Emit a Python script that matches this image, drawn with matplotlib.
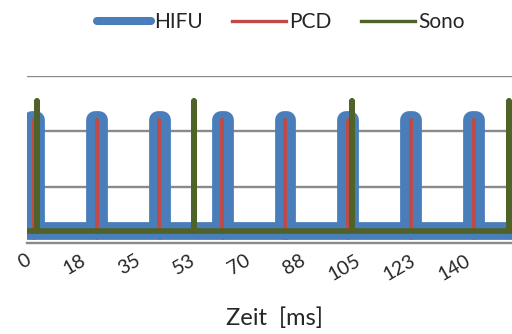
import matplotlib
matplotlib.use("Agg")
import matplotlib.pyplot as plt
import matplotlib.transforms as mtransforms
from matplotlib.lines import Line2D

plt.rcParams['font.family'] = ['Lato', 'DejaVu Sans']

# Pulse timing (ms) and signal levels for each trace
hifu_on_ms = [1.4, 21.4, 41.4, 61.4, 81.4, 101.4, 121.4, 141.4]
hifu_width_ms = 1.2
hifu_low = 0.2
hifu_high = 2.2

pcd_on_ms = [1.9, 21.9, 41.9, 61.9, 81.9, 101.9, 121.9, 141.9]
pcd_width_ms = 0.0
pcd_low = 0.2
pcd_high = 2.2

sono_on_ms = [3.0, 53.0, 103.0, 153.0]
sono_width_ms = 0.0
sono_low = 0.2
sono_high = 2.55

t_start = 0.0
t_end = 156.0

tick_ms = [0, 17.5, 35, 52.5, 70, 87.5, 105, 122.5, 140]
tick_labels = ['0', '18', '35', '53', '70', '88', '105', '123', '140']

series_names = ['HIFU', 'PCD', 'Sono']
colors = ['#4a7ebb', '#be4b48', '#4f6228']


def pulse_train(on_times, width, low, high):
    t = [t_start]
    y = [low]
    for p in on_times:
        t += [p, p, p + width, p + width]
        y += [low, high, high, low]
    t.append(t_end)
    y.append(low)
    return t, y


W, H = 512, 334
fig = plt.figure(figsize=(W / 100, H / 100), dpi=100)
ax_left, ax_right, ax_bottom, ax_top = 27, 512, 242.5, 75.7
ax = fig.add_axes([ax_left / W, (H - ax_bottom) / H,
                   (ax_right - ax_left) / W, (ax_bottom - ax_top) / H])

ax.set_ylim(0, 3)
ax.set_xlim(-0.25, 154.06)

for gy in [1, 2, 3]:
    ax.axhline(gy, color='#8a8a8a', lw=1.7, zorder=1)

for s in ['left', 'right', 'top']:
    ax.spines[s].set_visible(False)
ax.spines['bottom'].set_color('#8a8a8a')
ax.spines['bottom'].set_linewidth(1.7)

t, y = pulse_train(hifu_on_ms, hifu_width_ms, hifu_low, hifu_high)
ax.plot(t, y, color=colors[0], lw=12.8, solid_capstyle='round',
        solid_joinstyle='round', zorder=2)
t, y = pulse_train(pcd_on_ms, pcd_width_ms, pcd_low, pcd_high)
ax.plot(t, y, color=colors[1], lw=2.6, solid_capstyle='round',
        solid_joinstyle='round', zorder=3)
t, y = pulse_train(sono_on_ms, sono_width_ms, sono_low, sono_high)
ax.plot(t, y, color=colors[2], lw=4.0, solid_capstyle='round',
        solid_joinstyle='round', zorder=4)

ax.set_yticks([])
ax.set_xticks(tick_ms)
ax.set_xticklabels(tick_labels, rotation=30, ha='right', va='top',
                   rotation_mode='anchor', fontsize=14, color='#262626')
ax.tick_params(axis='x', length=0, pad=6.5)
shift = mtransforms.ScaledTranslation(-3 / 100, 0, fig.dpi_scale_trans)
for lbl in ax.get_xticklabels():
    lbl.set_transform(lbl.get_transform() + shift)

fig.text(274 / W, 1 - 318 / H, 'Zeit  [ms]', ha='center', va='center',
         fontsize=17, color='#262626')

handles = [
    Line2D([], [], color=colors[0], lw=5.8, solid_capstyle='round'),
    Line2D([], [], color=colors[1], lw=2.4),
    Line2D([], [], color=colors[2], lw=2.4),
]
fig.legend(handles, series_names, loc='center', ncol=3,
           bbox_to_anchor=(281 / W, 1 - 22 / H), frameon=False,
           fontsize=15, handlelength=2.6, handletextpad=0.15,
           columnspacing=1.4, labelcolor='#262626')

fig.savefig('out.png', dpi=100)
